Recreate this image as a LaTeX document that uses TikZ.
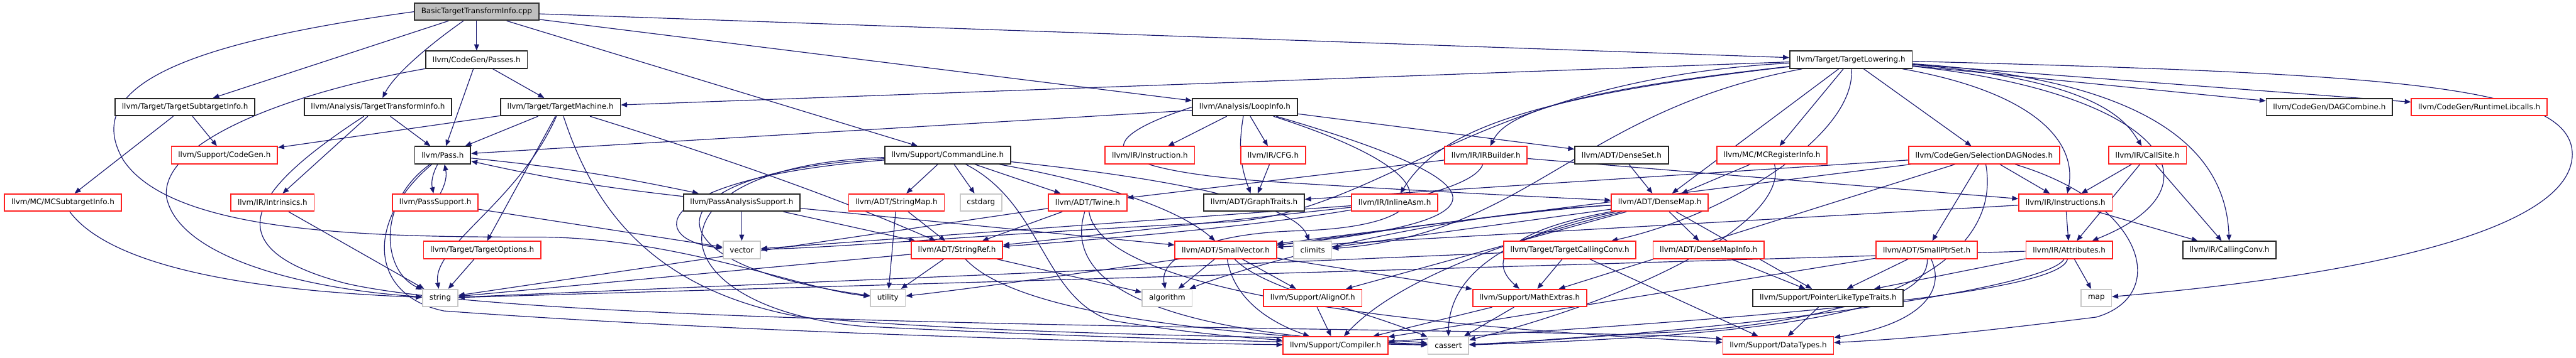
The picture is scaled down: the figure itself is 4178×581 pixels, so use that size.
\documentclass[tikz,border=0pt]{standalone}
\usepackage{fontspec}
\setmainfont{DejaVu Sans}
\usetikzlibrary{arrows.meta, backgrounds}
\definecolor{edgeBlue}{HTML}{191970}
\definecolor{hdrRed}{HTML}{FF2020}
\definecolor{sysGrey}{HTML}{C8C8C8}
\definecolor{rootGrey}{HTML}{BFBFBF}
\tikzset{
  filebox/.style  = {draw, fill=white, line width=1.8pt, minimum height=28pt, inner xsep=11pt,
                     inner ysep=0pt, font=\fontsize{12.2}{14}\selectfont},
  docnode/.style  = {filebox, draw=black!85},
  rednode/.style  = {filebox, draw=hdrRed},
  sysnode/.style  = {filebox, draw=sysGrey},
  rootnode/.style = {filebox, draw=black!80, fill=rootGrey},
  inc/.style      = {-{Triangle[length=10pt,width=8pt]}, edgeBlue, line width=1.2pt},
}
\begin{document}
\begin{tikzpicture}[x=1pt,y=-1pt]
  \useasboundingbox (0,0) rectangle (4178,581);
  % the file itself
  \node[rootnode] (root) at (773,19) {BasicTargetTransformInfo.cpp};
  % included headers, row by row
  \node[docnode] (passes) at (773,97) {llvm/CodeGen/Passes.h};
  \node[docnode] (tlow) at (3002,97) {llvm/Target/TargetLowering.h};
  \node[docnode] (tsi) at (300,174) {llvm/Target/TargetSubtargetInfo.h};
  \node[docnode] (tti) at (613,174) {llvm/Analysis/TargetTransformInfo.h};
  \node[docnode] (tmach) at (909,174) {llvm/Target/TargetMachine.h};
  \node[docnode] (loopinfo) at (2019,174) {llvm/Analysis/LoopInfo.h};
  \node[docnode] (dagc) at (3778,174) {llvm/CodeGen/DAGCombine.h};
  \node[rednode] (rtlib) at (4021,174) {llvm/CodeGen/RuntimeLibcalls.h};
  \node[rednode] (codegen) at (364,252) {llvm/Support/CodeGen.h};
  \node[docnode] (pass) at (718,252) {llvm/Pass.h};
  \node[docnode] (cmdline) at (1537,252) {llvm/Support/CommandLine.h};
  \node[rednode] (instr) at (1865,252) {llvm/IR/Instruction.h};
  \node[rednode] (cfg) at (2065,252) {llvm/IR/CFG.h};
  \node[rednode] (irb) at (2410,252) {llvm/IR/IRBuilder.h};
  \node[docnode] (denseset) at (2630,252) {llvm/ADT/DenseSet.h};
  \node[rednode] (mcri) at (2874,252) {llvm/MC/MCRegisterInfo.h};
  \node[rednode] (sdn) at (3218,252) {llvm/CodeGen/SelectionDAGNodes.h};
  \node[rednode] (callsite) at (3483,252) {llvm/IR/CallSite.h};
  \node[rednode] (mcsti) at (102,329) {llvm/MC/MCSubtargetInfo.h};
  \node[rednode] (intrin) at (442,329) {llvm/IR/Intrinsics.h};
  \node[rednode] (passsup) at (706,329) {llvm/PassSupport.h};
  \node[docnode] (pas) at (1203,329) {llvm/PassAnalysisSupport.h};
  \node[rednode] (strmap) at (1454,329) {llvm/ADT/StringMap.h};
  \node[sysnode] (cstdarg) at (1591,329) {cstdarg};
  \node[rednode] (twine) at (1764,329) {llvm/ADT/Twine.h};
  \node[docnode] (graph) at (2034,329) {llvm/ADT/GraphTraits.h};
  \node[rednode] (inlineasm) at (2262,329) {llvm/IR/InlineAsm.h};
  \node[rednode] (densemap) at (2692,329) {llvm/ADT/DenseMap.h};
  \node[rednode] (instrs) at (3350,329) {llvm/IR/Instructions.h};
  \node[rednode] (topts) at (782,406) {llvm/Target/TargetOptions.h};
  \node[sysnode] (vector) at (1203,406) {vector};
  \node[rednode] (strref) at (1552,406) {llvm/ADT/StringRef.h};
  \node[rednode] (smallvec) at (1988,406) {llvm/ADT/SmallVector.h};
  \node[sysnode] (climits) at (2129,406) {climits};
  \node[rednode] (tcc) at (2546,406) {llvm/Target/TargetCallingConv.h};
  \node[rednode] (dmi) at (2771,406) {llvm/ADT/DenseMapInfo.h};
  \node[rednode] (sps) at (3125,406) {llvm/ADT/SmallPtrSet.h};
  \node[rednode] (attrs) at (3356,406) {llvm/IR/Attributes.h};
  \node[docnode] (callconv) at (3616,406) {llvm/IR/CallingConv.h};
  \node[sysnode] (string) at (714,484) {string};
  \node[sysnode] (utility) at (1440,484) {utility};
  \node[sysnode] (algorithm) at (1893,484) {algorithm};
  \node[rednode] (alignof) at (2129,484) {llvm/Support/AlignOf.h};
  \node[rednode] (mathext) at (2481,484) {llvm/Support/MathExtras.h};
  \node[docnode] (pltt) at (2965,484) {llvm/Support/PointerLikeTypeTraits.h};
  \node[sysnode] (map) at (3400,484) {map};
  \node[rednode] (compiler) at (2166,561) {llvm/Support/Compiler.h};
  \node[sysnode] (cassert) at (2349,561) {cassert};
  \node[rednode] (datatypes) at (2884,561) {llvm/Support/DataTypes.h};

  \begin{scope}[on background layer]
  % includes of the .cpp file
  \draw[inc] (root) -- (tsi);
  \draw[inc] (root) .. controls (700,70) and (640,120) .. (tti);
  \draw[inc] (root) -- (passes);
  \draw[inc] (root) -- (tlow);
  \draw[inc] (root) -- (loopinfo);
  \draw[inc] (root) -- (cmdline);
  \draw[inc] (root.west) .. controls (300,70) and (130,140) .. (200,260)
                         .. controls (280,380) and (600,385) .. (870,385)
                         .. controls (1100,385) and (1300,470) .. (utility);
  % left part
  \draw[inc] (tsi) -- (mcsti);
  \draw[inc] (tsi) -- (codegen);
  \draw[inc] (mcsti) .. controls (170,420) and (350,470) .. (string);
  \draw[inc] (tti) -- (intrin);
  \draw[inc] (tti) -- (pass);
  \draw[inc] (tti) .. controls (420,300) and (330,400) .. (560,460)
                   .. controls (900,540) and (2600,530) .. (datatypes);
  \draw[inc] (intrin) -- (string);
  \draw[inc] (passes) -- (pass);
  \draw[inc] (passes) -- (tmach);
  \draw[inc] (passes) .. controls (470,150) and (260,230) .. (270,320)
                      .. controls (290,420) and (500,470) .. (string);
  \draw[inc] (tmach) -- (codegen);
  \draw[inc] (tmach) -- (pass);
  \draw[inc] (tmach) -- (topts);
  \draw[inc] (tmach) .. controls (840,330) and (700,400) .. (string);
  \draw[inc] (tmach) .. controls (960,330) and (1050,470) .. (1300,515)
                     .. controls (1700,550) and (2200,545) .. (cassert);
  \draw[inc] (tmach) .. controls (1250,280) and (1400,340) .. (strref);
  \draw[inc] (pass) to[bend right=20] (passsup);
  \draw[inc] (passsup) to[bend right=20] (pass);
  \draw[inc] (pass) to[bend left=3] (pas);
  \draw[inc] (pas) to[bend left=3] (pass);
  \draw[inc] (pass) .. controls (610,330) and (620,440) .. (string);
  \draw[inc] (pass) .. controls (590,360) and (600,480) .. (720,505)
                    .. controls (1200,540) and (1800,556) .. (compiler);
  \draw[inc] (passsup) -- (vector);
  \draw[inc] (pas) -- (vector);
  \draw[inc] (pas) -- (smallvec);
  \draw[inc] (pas) -- (strref);
  \draw[inc] (topts) -- (string);
  % CommandLine and ADT
  \draw[inc] (cmdline) -- (strmap);
  \draw[inc] (cmdline) -- (cstdarg);
  \draw[inc] (cmdline) -- (twine);
  \draw[inc] (cmdline) .. controls (1750,290) and (1900,330) .. (smallvec);
  \draw[inc] (cmdline) .. controls (1900,290) and (2100,330) .. (climits);
  \draw[inc] (cmdline) .. controls (1690,330) and (1690,480) .. (1800,520)
                       .. controls (1950,545) and (2050,550) .. (compiler);
  \draw[inc] (cmdline) .. controls (1050,290) and (1050,390) .. (vector);
  \draw[inc] (cmdline) .. controls (1040,280) and (1040,430) .. (utility);
  \draw[inc] (cmdline) .. controls (1030,270) and (1060,500) .. (1400,530)
                       .. controls (1800,550) and (2100,556) .. (cassert);
  \draw[inc] (strmap) -- (utility);
  \draw[inc] (strmap) -- (strref);
  \draw[inc] (twine) -- (strref);
  \draw[inc] (twine) -- (string);
  \draw[inc] (twine) .. controls (1720,470) and (1900,545) .. (cassert);
  \draw[inc] (twine) .. controls (1790,500) and (2500,540) .. (datatypes);
  \draw[inc] (strref) -- (utility);
  \draw[inc] (strref) -- (algorithm);
  \draw[inc] (strref) -- (string);
  \draw[inc] (strref) .. controls (1640,500) and (1900,540) .. (cassert);
  \draw[inc] (smallvec) -- (algorithm);
  \draw[inc] (smallvec) -- (alignof);
  \draw[inc] (smallvec) -- (mathext);
  \draw[inc] (smallvec) .. controls (2050,470) and (2200,500) .. (cassert);
  \draw[inc] (smallvec) .. controls (2000,480) and (2050,520) .. (compiler);
  \draw[inc] (alignof) -- (compiler);
  \draw[inc] (mathext) -- (compiler);
  \draw[inc] (mathext) -- (cassert);
  % LoopInfo
  \draw[inc] (loopinfo) -- (pass);
  \draw[inc] (loopinfo) -- (instr);
  \draw[inc] (loopinfo) -- (cfg);
  \draw[inc] (loopinfo) to[bend right=15] (graph);
  \draw[inc] (loopinfo.west) .. controls (1760,230) and (1780,275) .. (2060,295)
                             .. controls (2300,310) and (2500,320) .. (densemap);
  \draw[inc] (loopinfo) -- (denseset);
  \draw[inc] (loopinfo) .. controls (2380,290) and (2330,370) .. (2100,375)
                        .. controls (1950,380) and (1880,420) .. (algorithm);
  \draw[inc] (loopinfo) .. controls (2450,300) and (2450,360) .. (smallvec);
  \draw[inc] (cfg) -- (graph);
  % IRBuilder, InlineAsm, DenseMap
  \draw[inc] (irb) -- (twine);
  \draw[inc] (irb) .. controls (2380,340) and (1900,380) .. (strref);
  \draw[inc] (irb) -- (instrs);
  \draw[inc] (denseset) -- (densemap);
  \draw[inc] (inlineasm) -- (strref);
  \draw[inc] (inlineasm) -- (vector);
  \draw[inc] (densemap) -- (dmi);
  \draw[inc] (densemap) -- (pltt);
  \draw[inc] (densemap) -- (alignof);
  \draw[inc] (densemap) -- (climits);
  \draw[inc] (densemap) .. controls (2300,350) and (2000,440) .. (algorithm);
  \draw[inc] (densemap) .. controls (2400,345) and (1700,455) .. (utility);
  \draw[inc] (densemap) .. controls (2420,380) and (2420,430) .. (mathext);
  \draw[inc] (densemap) .. controls (2400,390) and (2350,470) .. (cassert);
  \draw[inc] (densemap) .. controls (2400,400) and (2250,470) .. (compiler);
  \draw[inc] (dmi) -- (pltt);
  \draw[inc] (tcc) -- (mathext);
  \draw[inc] (tcc) -- (datatypes);
  \draw[inc] (tcc) -- (string);
  \draw[inc] (sps) -- (pltt);
  \draw[inc] (sps) .. controls (3160,480) and (3100,530) .. (datatypes);
  \draw[inc] (sps) .. controls (3130,500) and (2900,545) .. (cassert);
  \draw[inc] (sps) -- (compiler);
  \draw[inc] (pltt) -- (datatypes);
  % TargetLowering
  \draw[inc] (tlow) -- (tmach);
  \draw[inc] (tlow) .. controls (2400,130) and (2250,340) .. (2000,360)
                    .. controls (1600,380) and (1400,400) .. (vector);
  \draw[inc] (tlow) .. controls (2560,180) and (2480,380) .. (climits);
  \draw[inc] (tlow) .. controls (2450,160) and (2330,220) .. (inlineasm);
  \draw[inc] (tlow) .. controls (2520,150) and (2440,190) .. (irb);
  \draw[inc] (tlow) -- (densemap);
  \draw[inc] (tlow) -- (mcri);
  \draw[inc] (tlow) .. controls (3010,220) and (2800,350) .. (tcc);
  \draw[inc] (tlow) -- (sdn);
  \draw[inc] (tlow) .. controls (3300,150) and (3370,230) .. (instrs);
  \draw[inc] (tlow) .. controls (3500,150) and (3620,300) .. (attrs);
  \draw[inc] (tlow) .. controls (3410,130) and (3450,200) .. (callsite);
  \draw[inc] (tlow) .. controls (3500,130) and (3610,250) .. (callconv);
  \draw[inc] (tlow) -- (dagc);
  \draw[inc] (tlow) -- (rtlib);
  \draw[inc] (tlow) .. controls (3900,120) and (4170,140) .. (4172,250)
                    .. controls (4172,380) and (3800,450) .. (map);
  % SelectionDAGNodes, MCRegisterInfo, IR
  \draw[inc] (sdn) -- (graph);
  \draw[inc] (sdn) -- (sps);
  \draw[inc] (sdn) -- (instrs);
  \draw[inc] (sdn) -- (smallvec);
  \draw[inc] (sdn) -- (mathext);
  \draw[inc] (sdn) .. controls (3245,400) and (3100,520) .. (2700,540)
                   .. controls (2500,550) and (2450,558) .. (cassert);
  \draw[inc] (sdn) .. controls (3480,330) and (3520,480) .. (3400,515)
                   .. controls (3200,540) and (3100,550) .. (datatypes);
  \draw[inc] (mcri) -- (densemap);
  \draw[inc] (mcri) .. controls (2900,350) and (2700,470) .. (cassert);
  \draw[inc] (instrs) -- (attrs);
  \draw[inc] (instrs) -- (callconv);
  \draw[inc] (instrs) -- (smallvec);
  \draw[inc] (attrs) -- (map);
  \draw[inc] (attrs) -- (pltt);
  \draw[inc] (attrs) -- (string);
  \draw[inc] (attrs) .. controls (3320,470) and (2800,540) .. (cassert);
  \draw[inc] (attrs) .. controls (3340,490) and (2600,530) .. (compiler);
  \draw[inc] (callsite) -- (instrs);
  \draw[inc] (callsite) -- (attrs);
  \draw[inc] (callsite) -- (callconv);
  \end{scope}
\end{tikzpicture}
\end{document}
